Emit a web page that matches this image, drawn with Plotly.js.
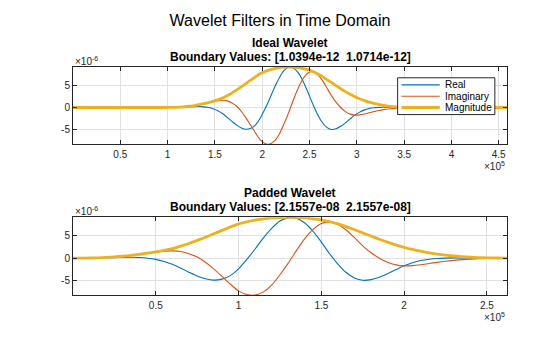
<!DOCTYPE html>
<html><head><meta charset="utf-8">
<script src="https://cdn.plot.ly/plotly-3.0.1.min.js"></script>
<style>html,body{margin:0;padding:0;background:#fff}#chart{width:560px;height:337px}</style>
</head><body><div id="chart"></div>
<script>
// time axis in units of 1e5 samples, amplitudes in units of 1e-6
const paddedTime = [0.00,0.05,0.10,0.15,0.20,0.25,0.30,0.35,0.40,0.45,0.50,0.55,0.60,0.65,0.70,0.75,0.80,0.85,0.90,0.95,
  1.00,1.05,1.10,1.15,1.20,1.25,1.30,1.35,1.40,1.45,1.50,1.55,1.60,1.65,1.70,1.75,1.80,1.85,1.90,1.95,
  2.00,2.05,2.10,2.15,2.20,2.25,2.30,2.35,2.40,2.45,2.50,2.55,2.62];
const idealTime = [0.00,0.98,1.03,1.08,1.13,1.18,1.23,1.28,1.33,1.38,1.43,1.48,1.53,1.58,1.63,1.68,1.73,1.78,1.83,1.88,1.93,
  1.98,2.03,2.08,2.13,2.18,2.23,2.28,2.33,2.38,2.43,2.48,2.53,2.58,2.63,2.68,2.73,2.78,2.83,2.88,2.93,
  2.98,3.03,3.08,3.13,3.18,3.23,3.28,3.33,3.38,3.43,3.48,3.53,3.60,4.5875];

const paddedReal = [0,0.01,0.03,0.05,0.09,0.13,0.18,0.21,0.15,0,-0.26,-0.72,-1.35,-2.20,-3.09,-3.94,-4.57,-4.85,-4.64,-3.86,
  -2.35,-0.28,2.03,4.48,6.61,8.22,8.98,8.85,7.78,5.93,3.57,0.99,-1.32,-3.18,-4.38,-4.90,-4.75,-4.20,-3.43,-2.55,
  -1.70,-1.03,-0.53,-0.23,-0.06,0.02,0.06,0.06,0.06,0.04,0.03,0.015,0.004];
const paddedImag = [0,0.01,0.03,0.075,0.15,0.25,0.39,0.58,0.85,1.10,1.355,1.54,1.61,1.48,1.00,0.28,-0.89,-2.37,-4.03,-5.72,
  -7.23,-8.04,-8.15,-7.46,-5.95,-3.66,-1.10,1.72,4.31,6.36,7.66,8.04,7.48,6.24,4.53,2.72,1.19,0,-0.92,-1.48,
  -1.70,-1.65,-1.46,-1.18,-0.92,-0.68,-0.48,-0.32,-0.21,-0.135,-0.075,-0.037,-0.01];
const paddedMag = [0,0.01,0.04,0.09,0.17,0.28,0.43,0.62,0.86,1.10,1.38,1.70,2.10,2.65,3.25,3.95,4.65,5.40,6.15,6.90,
  7.60,8.05,8.40,8.70,8.90,9.00,9.05,9.02,8.90,8.70,8.45,8.10,7.60,7.00,6.30,5.60,4.90,4.20,3.55,2.95,
  2.40,1.95,1.55,1.20,0.92,0.68,0.48,0.33,0.22,0.14,0.08,0.04,0.01];

// the ideal filter has the same shape, centred in a longer record
const idealReal = [0].concat(paddedReal, [0]);
const idealImag = [0].concat(paddedImag, [0]);
const idealMag  = [0].concat(paddedMag, [0]);

const seriesNames = ['Real','Imaginary','Magnitude'];
const seriesColors = ['#0072BD','#D95319','#EDB120'];
const seriesWidths = [1.1,1.1,2.8];

const topTicks = [0.5,1,1.5,2,2.5,3,3.5,4,4.5];
const topTickText = ['0.5','1','1.5','2','2.5','3','3.5','4','4.5'];
const botTicks = [0.5,1,1.5,2,2.5];
const botTickText = ['0.5','1','1.5','2','2.5'];
const yTicks = [-5,0,5];
const yTickText = ['-5','0','5'];

const mainTitle = 'Wavelet Filters in Time Domain';
const topTitle = 'Ideal Wavelet';
const topSub = 'Boundary Values: [1.0394e-12\u00a0 1.0714e-12]';
const botTitle = 'Padded Wavelet';
const botSub = 'Boundary Values: [2.1557e-08\u00a0 2.1557e-08]';

const FONT = 'Liberation Sans, Arial, Helvetica, sans-serif';
const AX = '#262626';
const GRID = '#e1e1e1';

function mk(x, ys, xa, ya) {
  return ys.map((y, i) => ({
    type: 'scatter', mode: 'lines', x: x, y: y, xaxis: xa, yaxis: ya,
    name: seriesNames[i], showlegend: false, hoverinfo: 'skip',
    line: {color: seriesColors[i], width: seriesWidths[i], shape: 'spline', smoothing: 0.8}
  }));
}
const data = [].concat(
  mk(idealTime, [idealReal, idealImag, idealMag], 'x', 'y'),
  mk(paddedTime, [paddedReal, paddedImag, paddedMag], 'x2', 'y2')
);

function xax(anchor, range, tv, tt) {
  return {anchor: anchor, domain: [0,1], range: range, tickmode: 'array', tickvals: tv, ticktext: tt,
    ticks: 'inside', ticklen: 4, tickwidth: 1, tickcolor: AX, showline: true, linecolor: AX, linewidth: 1,
    mirror: 'ticks', showgrid: true, gridcolor: GRID, gridwidth: 1, zeroline: false, ticklabelstandoff: 1,
    tickfont: {family: FONT, size: 10, color: AX}};
}
function yax(anchor, domain) {
  return {anchor: anchor, domain: domain, range: [-8.15, 9.05], tickmode: 'array', tickvals: yTicks, ticktext: yTickText,
    ticks: 'inside', ticklen: 4, tickwidth: 1, tickcolor: AX, showline: true, linecolor: AX, linewidth: 1,
    mirror: 'ticks', showgrid: true, gridcolor: GRID, gridwidth: 1, zeroline: false,
    tickfont: {family: FONT, size: 10, color: AX}};
}

function titleAnn(xr, yr, text, shift) {
  return {xref: xr, yref: yr, x: 0.5, y: 1, xanchor: 'center', yanchor: 'middle', yshift: shift,
    text: '<b>' + text + '</b>', showarrow: false, font: {family: FONT, size: 12, color: '#000'}};
}
function expAnns(xr, yr) {
  return [
    {xref: xr, yref: yr, x: 0, y: 1, xanchor: 'left', yanchor: 'bottom', yshift: -2, xshift: 0,
     text: '\u00d710<sup>-6</sup>', showarrow: false, font: {family: FONT, size: 10, color: AX}},
    {xref: xr, yref: yr, x: 1, y: 0, xanchor: 'right', yanchor: 'middle', yshift: -22, xshift: 0,
     text: '\u00d710<sup>5</sup>', showarrow: false, font: {family: FONT, size: 10, color: AX}}
  ];
}

// legend box (drawn inside the top axes)
const lgX0 = 0.748, lgX1 = 0.972, lgY0 = 0.382, lgY1 = 0.860;
const lgRows = [0.768, 0.62, 0.474];
const shapes = [{type: 'rect', xref: 'x domain', yref: 'y domain', x0: lgX0, x1: lgX1, y0: lgY0, y1: lgY1,
  fillcolor: '#fff', line: {color: AX, width: 1}, layer: 'above'}];
const legendAnns = [];
lgRows.forEach((ry, i) => {
  shapes.push({type: 'line', xref: 'x domain', yref: 'y domain', x0: 0.757, x1: 0.845, y0: ry, y1: ry,
    line: {color: seriesColors[i], width: seriesWidths[i]}, layer: 'above'});
  legendAnns.push({xref: 'x domain', yref: 'y domain', x: 0.853, y: ry, xanchor: 'left', yanchor: 'middle',
    text: seriesNames[i], showarrow: false, font: {family: FONT, size: 10, color: '#000'}});
});

const layout = {
  width: 560, height: 337, margin: {l: 73, r: 53, t: 67, b: 42},
  paper_bgcolor: '#fff', plot_bgcolor: '#fff', showlegend: false,
  font: {family: FONT, size: 10, color: AX},
  title: {text: mainTitle, font: {family: FONT, size: 16, color: '#000'}, x: 0.5, xref: 'container',
    y: 1 - 20/337, yref: 'container', yanchor: 'middle', xanchor: 'center'},
  xaxis: xax('y', [0, 4.5875], topTicks, topTickText),
  yaxis: yax('x', [0.6623, 1]),
  xaxis2: xax('y2', [0, 2.62144], botTicks, botTickText),
  yaxis2: yax('x2', [0, 0.3408]),
  shapes: shapes,
  annotations: [
    titleAnn('x domain', 'y domain', topTitle, 24),
    titleAnn('x domain', 'y domain', topSub, 10.5),
    titleAnn('x2 domain', 'y2 domain', botTitle, 24),
    titleAnn('x2 domain', 'y2 domain', botSub, 10.5)
  ].concat(expAnns('x domain', 'y domain'), expAnns('x2 domain', 'y2 domain'), legendAnns)
};

Plotly.newPlot('chart', data, layout, {displayModeBar: false, staticPlot: true});
</script></body></html>
